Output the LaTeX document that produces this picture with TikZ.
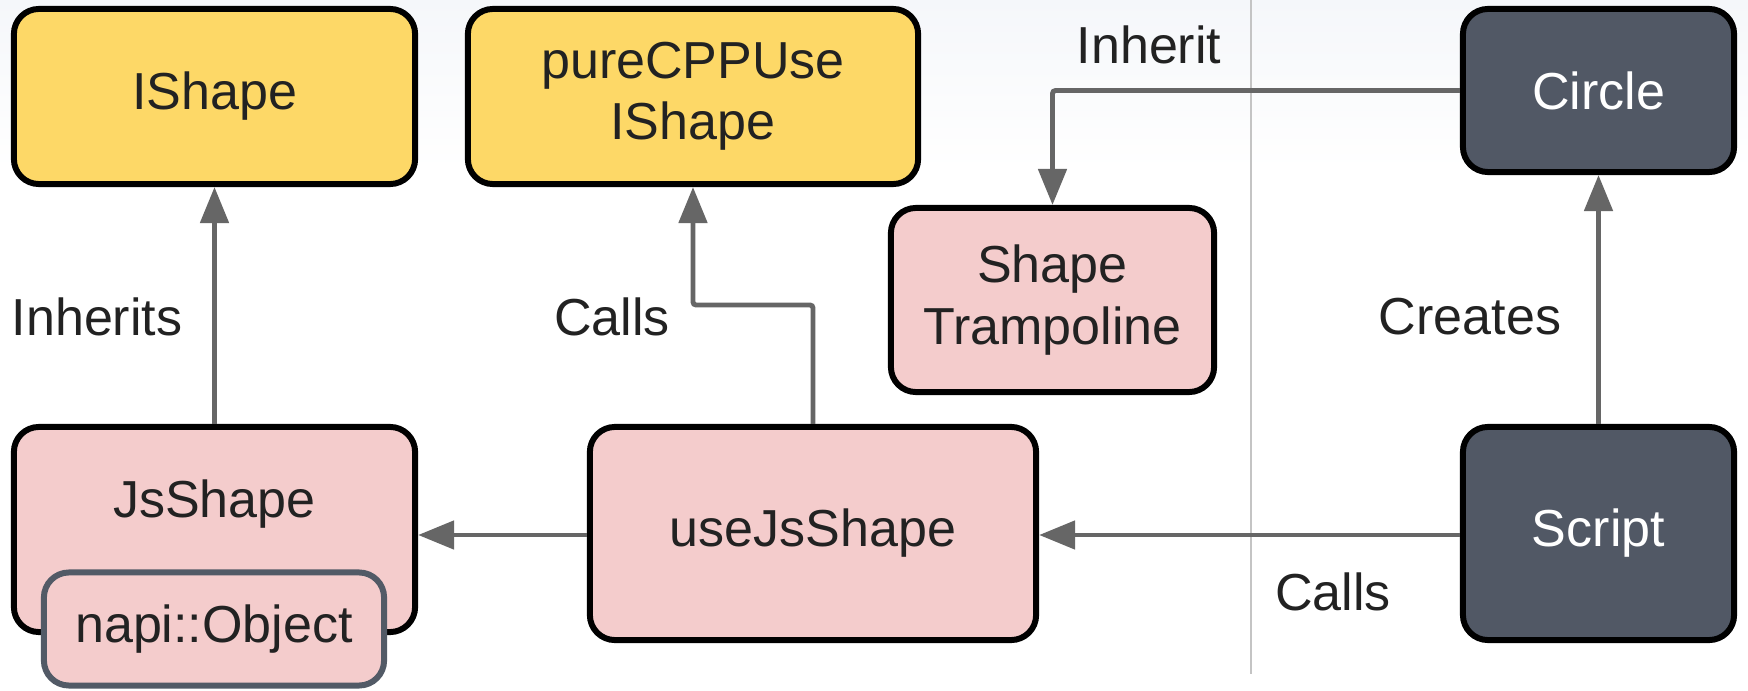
\documentclass[tikz,border=0pt]{standalone}
\usepackage{fontspec}
\setmainfont{Liberation Sans}
\usetikzlibrary{arrows.meta,calc}
\definecolor{ifaceyellow}{HTML}{FDD867}
\definecolor{objpink}{HTML}{F4CCCC}
\definecolor{jsdark}{HTML}{515865}
\definecolor{napiedge}{HTML}{525A66}
\definecolor{linkgray}{HTML}{666666}
\definecolor{inkdark}{HTML}{222222}
\definecolor{topwash}{HTML}{F5F7FA}
\definecolor{divider}{HTML}{C4C4C4}
\begin{document}
\begin{tikzpicture}[x=0.01cm,y=-0.01cm,
  every node/.style={font=\fontsize{14.8}{17.4}\selectfont, text=inkdark},
  box/.style={draw=black, line width=1.7pt, rounded corners=0.25cm, align=center, inner sep=0pt},
  yellowbox/.style={box, fill=ifaceyellow},
  pinkbox/.style={box, fill=objpink},
  darkbox/.style={box, fill=jsdark, text=white},
  arr/.style={draw=linkgray, line width=1.4pt, rounded corners=0.03cm, -{Triangle[length=0.36cm,width=0.28cm]}},
  lbl/.style={inner sep=0pt}
]
% canvas and soft top wash
\useasboundingbox (0,0) rectangle (1748,691);
\fill[white] (0,0) rectangle (1748,691);
\shade[top color=topwash, bottom color=white] (0,0) rectangle (1748,170);
% separator between the C++ side and the JS side
\draw[divider, line width=0.8pt] (1251,0) -- (1251,674);

% boxes
\node[yellowbox, minimum width=4.01cm, minimum height=1.75cm] (ishape) at (214.5,96.5) {IShape};
\node[yellowbox, minimum width=4.50cm, minimum height=1.75cm] (pure) at (693,96.5) {pureCPPUse\\IShape};
\node[darkbox, minimum width=2.71cm, minimum height=1.63cm] (circle) at (1598.5,90.5) {Circle};
\node[pinkbox, minimum width=3.23cm, minimum height=1.84cm] (tramp) at (1052.5,300) {Shape\\Trampoline};
\node[pinkbox, minimum width=4.01cm, minimum height=2.05cm] (jsshape) at (214.5,529.5) {};
\node[lbl] (jsshapetext) at (214.5,504) {JsShape};
\node[pinkbox, draw=napiedge, minimum width=3.40cm, minimum height=1.13cm] (napi) at (214,629) {napi::Object};
\node[pinkbox, minimum width=4.46cm, minimum height=2.13cm] (usejs) at (813,533.5) {useJsShape};
\node[darkbox, minimum width=2.71cm, minimum height=2.13cm] (script) at (1598.5,533.5) {Script};

% bend point of the Calls link up to pureCPPUse
\coordinate (callbend) at (693,305);

% connectors
\draw[arr] (jsshape.north) -- (ishape.south);
\draw[arr] (usejs.north) |- (callbend) -- (pure.south);
\draw[arr] (circle.west) -| (tramp.north);
\draw[arr] (script.north) -- (circle.south);
\draw[arr] (script.west |- 0,535) -- (usejs.east |- 0,535);
\draw[arr] (usejs.west |- 0,535) -- (jsshape.east |- 0,535);

% labels
\node[lbl] (linherits) at (97,317) {Inherits};
\node[lbl] (lcalls) at (612,317) {Calls};
\node[lbl] (linherit) at (1149,45) {Inherit};
\node[lbl] (lcreates) at (1470,317) {Creates};
\node[lbl] (lcalls2) at (1333,592) {Calls};
\end{tikzpicture}
\end{document}
